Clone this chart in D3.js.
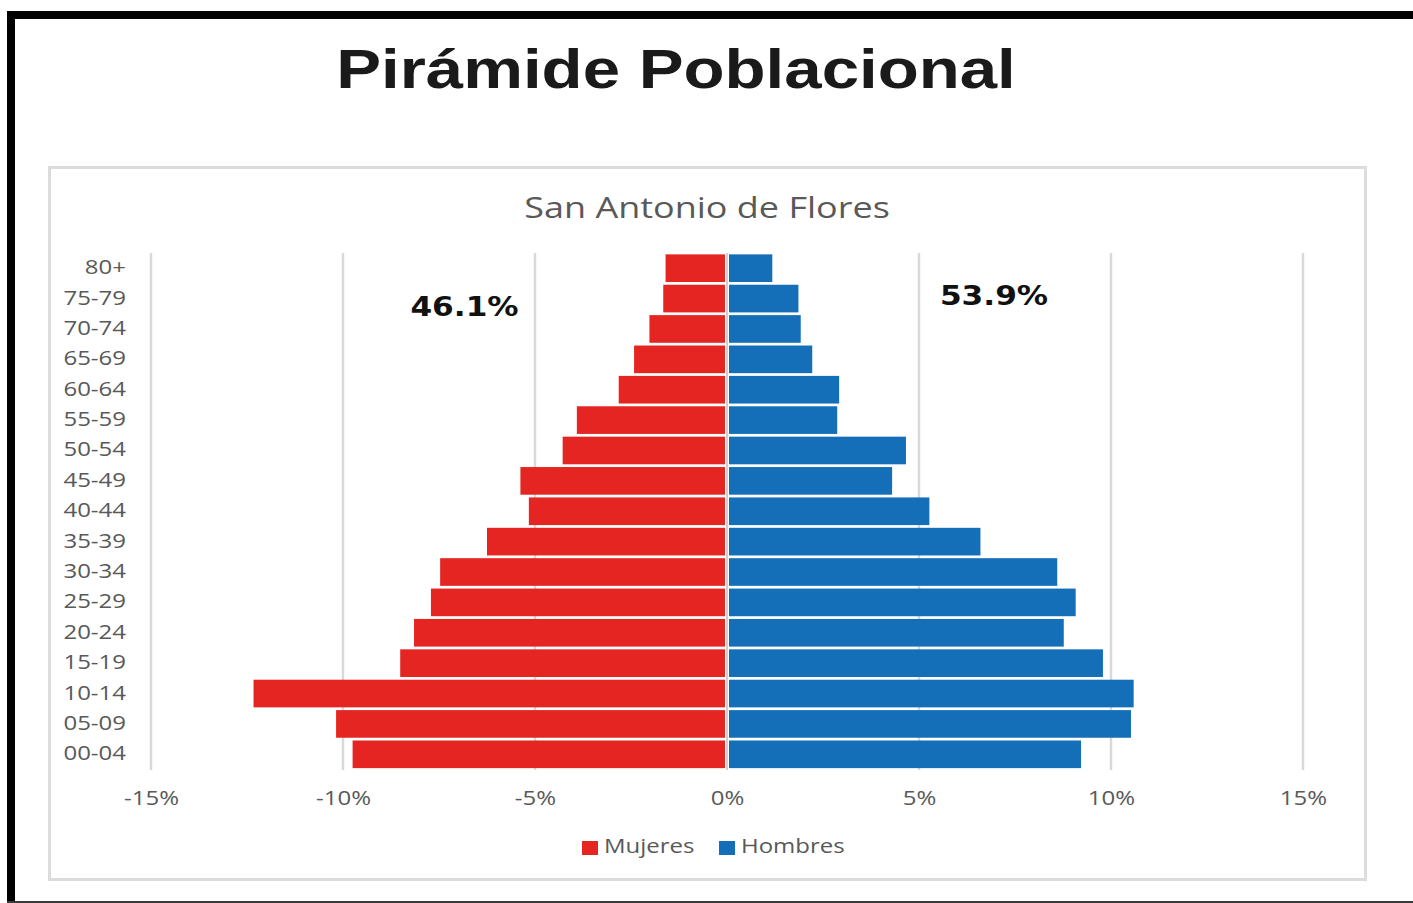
<!DOCTYPE html>
<html>
<head>
<meta charset="utf-8">
<script src="https://cdn.jsdelivr.net/npm/d3@7/dist/d3.min.js"></script>
<style>
    body { margin: 0; background: #ffffff; }
    svg { display: block; }
</style>
</head>
<body>
<div id="chart"></div>
<script>

// age groups, top of the pyramid first
var ageGroups = ["80+", "75-79", "70-74", "65-69", "60-64", "55-59", "50-54", "45-49", "40-44",
    "35-39", "30-34", "25-29", "20-24", "15-19", "10-14", "05-09", "00-04"];

// percent of each sex in the age group
var mujeres = [1.60, 1.66, 2.02, 2.42, 2.82, 3.91, 4.28, 5.38, 5.16,
    6.25, 7.47, 7.71, 8.15, 8.51, 12.33, 10.18, 9.75];
var hombres = [1.18, 1.86, 1.92, 2.22, 2.92, 2.87, 4.66, 4.30, 5.27,
    6.60, 8.60, 9.08, 8.77, 9.79, 10.59, 10.52, 9.22];

var xTicks = [-15, -10, -5, 0, 5, 10, 15];
var seriesNames = ["Mujeres", "Hombres"];
var seriesColors = ["#e42521", "#156fb8"];
var totals = ["46.1%", "53.9%"];

var title = "Pirámide Poblacional";
var subtitle = "San Antonio de Flores";

var width = 1413, height = 903;
var sx = 1.2; // text in the picture is stretched sideways

var svg = d3.select("#chart").append("svg")
    .attr("width", width)
    .attr("height", height);

// outer frame
svg.append("rect").attr("x", 7).attr("y", 11).attr("width", width - 7).attr("height", 8).attr("fill", "#000");
svg.append("rect").attr("x", 7).attr("y", 11).attr("width", 8).attr("height", height - 11).attr("fill", "#000");
svg.append("rect").attr("x", 7).attr("y", 901).attr("width", width - 7).attr("height", 2).attr("fill", "#3a3a3a");

// chart box
svg.append("rect")
    .attr("x", 49.5).attr("y", 167.5)
    .attr("width", 1316).attr("height", 712)
    .attr("fill", "#fff")
    .attr("stroke", "#dcdcdc")
    .attr("stroke-width", 3);

svg.append("text")
    .attr("transform", "translate(676,88) scale(" + sx + ",1)")
    .attr("text-anchor", "middle")
    .style("font-family", "'Liberation Sans', Arial, sans-serif")
    .style("font-weight", "bold")
    .style("font-size", "56px")
    .attr("fill", "#1a1a1a")
    .text(title);

svg.append("text")
    .attr("transform", "translate(707,218) scale(" + sx + ",1)")
    .attr("text-anchor", "middle")
    .style("font-family", "'Open Sans', sans-serif")
    .style("font-size", "30px")
    .attr("fill", "#595959")
    .text(subtitle);

// scales
var x = d3.scaleLinear().domain([-15, 15]).range([151, 1303]);
var y = d3.scaleBand().domain(ageGroups).range([253, 769.5]).paddingInner(0.09).paddingOuter(0.045);

// grid lines
svg.append("g")
    .selectAll("line")
    .data(xTicks)
    .enter().append("line")
    .attr("x1", function(d) { return x(d); })
    .attr("x2", function(d) { return x(d); })
    .attr("y1", 253)
    .attr("y2", 770)
    .attr("stroke", "#d9d9d9")
    .attr("stroke-width", 2.5);

var rows = ageGroups.map(function(g, i) {
    return { group: g, m: mujeres[i], h: hombres[i] };
});

// bars
svg.append("g").selectAll("rect")
    .data(rows)
    .enter().append("rect")
    .attr("x", function(d) { return x(-d.m); })
    .attr("y", function(d) { return y(d.group); })
    .attr("width", function(d) { return x(0) - x(-d.m); })
    .attr("height", y.bandwidth())
    .attr("fill", seriesColors[0]);

svg.append("g").selectAll("rect")
    .data(rows)
    .enter().append("rect")
    .attr("x", x(0))
    .attr("y", function(d) { return y(d.group); })
    .attr("width", function(d) { return x(d.h) - x(0); })
    .attr("height", y.bandwidth())
    .attr("fill", seriesColors[1]);

// center separator
svg.append("line")
    .attr("x1", x(0)).attr("x2", x(0)).attr("y1", 253).attr("y2", 770)
    .attr("stroke", "#fff").attr("stroke-width", 4);
svg.append("line")
    .attr("x1", x(0)).attr("x2", x(0)).attr("y1", 253).attr("y2", 770)
    .attr("stroke", "#d0d0d0").attr("stroke-width", 2);

// axes
var yAxis = svg.append("g")
    .attr("transform", "translate(126,0)")
    .call(d3.axisLeft(y).tickSize(0).tickPadding(0));
yAxis.select(".domain").remove();
yAxis.selectAll("text")
    .attr("x", 0)
    .attr("dy", "0.3em")
    .attr("transform", "scale(" + sx + ",1)")
    .style("font-family", "'Open Sans', sans-serif")
    .style("font-size", "20px")
    .attr("fill", "#595959");

var xAxis = svg.append("g")
    .attr("transform", "translate(0,805)")
    .call(d3.axisBottom(x).tickValues(xTicks).tickSize(0).tickPadding(0)
        .tickFormat(function(d) { return d + "%"; }));
xAxis.select(".domain").remove();
xAxis.selectAll("text")
    .attr("y", 0)
    .attr("dy", 0)
    .attr("transform", "scale(" + sx + ",1)")
    .style("font-family", "'Open Sans', sans-serif")
    .style("font-size", "20px")
    .attr("fill", "#595959");

// totals per sex
var totalPos = [[464.5, 316], [994, 305]];
svg.append("g").selectAll("text")
    .data(totals)
    .enter().append("text")
    .attr("transform", function(d, i) {
        return "translate(" + totalPos[i][0] + "," + totalPos[i][1] + ") scale(" + sx + ",1)";
    })
    .attr("text-anchor", "middle")
    .style("font-family", "'DejaVu Sans', Verdana, sans-serif")
    .style("font-weight", "bold")
    .style("font-size", "26px")
    .attr("fill", "#111")
    .text(function(d) { return d; });

// legend
var legendX = [582, 719];
var legend = svg.append("g").selectAll("g")
    .data(seriesNames)
    .enter().append("g")
    .attr("transform", function(d, i) { return "translate(" + legendX[i] + ",841)"; });
legend.append("rect")
    .attr("width", 16)
    .attr("height", 14)
    .attr("fill", function(d, i) { return seriesColors[i]; });
legend.append("text")
    .attr("transform", "translate(22,12) scale(" + sx + ",1)")
    .style("font-family", "'Open Sans', sans-serif")
    .style("font-size", "20px")
    .attr("fill", "#595959")
    .text(function(d) { return d; });

</script>
</body>
</html>
